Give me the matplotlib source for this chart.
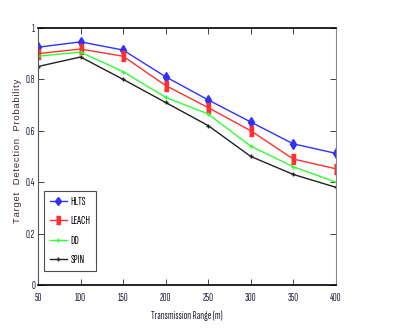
import matplotlib
matplotlib.use('Agg')
import matplotlib.pyplot as plt

# ── Data ───────────────────────────────────────────────
ranges = [50, 100, 150, 200, 250, 300, 350, 400]
hlts   = [0.925, 0.946, 0.914, 0.81, 0.72, 0.634, 0.549, 0.512]
leach  = [0.90, 0.918, 0.89, 0.776, 0.69, 0.60, 0.49, 0.452]
dd     = [0.89, 0.906, 0.83, 0.73, 0.665, 0.54, 0.46, 0.40]
spin   = [0.85, 0.887, 0.80, 0.71, 0.62, 0.50, 0.43, 0.38]
xticks = [50, 100, 150, 200, 250, 300, 350, 400]
yticks = [0, 0.2, 0.4, 0.6, 0.8, 1]
ylabels = ["0", "0.2", "0.4", "0.6", "0.8", "1"]

narrow = ["Sofia Sans Extra Condensed", "DejaVu Sans"]

fig = plt.figure(figsize=(3.96, 3.29), dpi=100)
ax = fig.add_axes([0.096, 0.134, 0.752, 0.781])

rect = [(-0.5, -1), (0.5, -1), (0.5, 1), (-0.5, 1)]
ax.plot(ranges, hlts, color="#3030ff", lw=1, marker="d", ms=5, label="HLTS")
ax.plot(ranges, leach, color="#ff3030", lw=1, marker=rect, ms=7, label="LEACH")
ax.plot(ranges, dd, color="#30ff30", lw=1, marker="+", ms=3, label="DD")
ax.plot(ranges, spin, color="#222222", lw=1, marker="+", ms=3, label="SPIN")

ax.set_xlim(50, 400)
ax.set_ylim(0, 1)
ax.set_xticks(xticks)
ax.set_yticks(yticks)
ax.set_yticklabels(ylabels)
ax.tick_params(direction="in", top=True, right=True, length=4, width=0.6,
               labelsize=8, colors="#222222", labelcolor="#222244")
ax.tick_params(axis="x", pad=6)
ax.tick_params(axis="y", pad=2)
for lab in ax.get_xticklabels() + ax.get_yticklabels():
    lab.set_family(narrow)
ax.spines["bottom"].set_linewidth(1.2)
ax.spines["top"].set_linewidth(1.2)
ax.spines["left"].set_color("#555555")
ax.spines["right"].set_color("#888888")

ax.set_xlabel("Transmission Range (m)", fontsize=8, family=narrow, color="#222233", labelpad=5)
spaced = "\u200a".join("Target  Detection  Probability")
ax.set_ylabel(spaced, fontsize=6.8, family=["Liberation Sans", "DejaVu Sans"],
              color="#442233")
ax.yaxis.set_label_coords(-0.055, 0.52)

leg = ax.legend(loc="lower left", bbox_to_anchor=(0.02, 0.055), fancybox=False,
                edgecolor="#222222", prop={"family": narrow, "size": 8},
                handlelength=1.6, labelspacing=0.85, borderpad=0.5, handletextpad=0.3,
                borderaxespad=0.0, markerscale=0.9)
leg.get_frame().set_linewidth(0.8)

fig.savefig("out.png", dpi=100, facecolor="white")
